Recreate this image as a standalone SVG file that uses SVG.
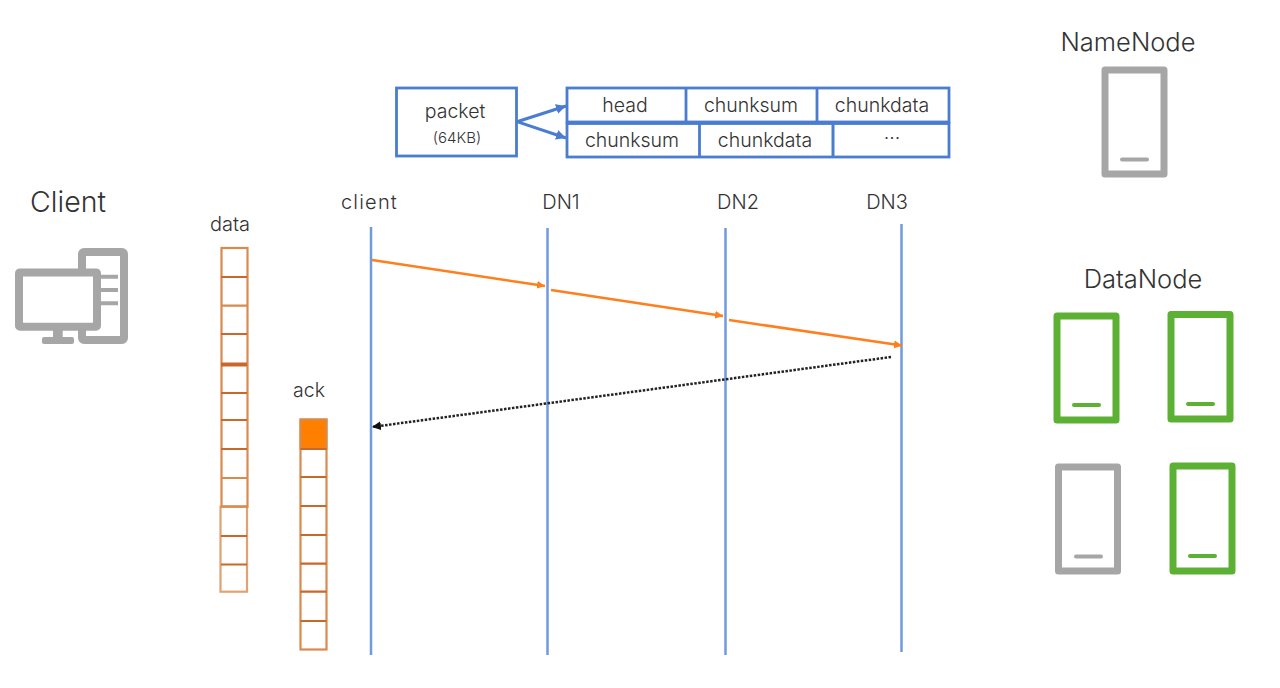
<svg xmlns="http://www.w3.org/2000/svg" width="1280" height="688" viewBox="0 0 1280 688">
<style>
text{font-family:"Inter","Liberation Sans",sans-serif;fill:#333;text-anchor:middle;font-weight:300}
.t19{font-size:19.500px}.t20{font-size:20px}.t26{font-size:25.500px}.t28{font-size:28.500px}.t14{font-size:15px}
.box{fill:#fff;stroke:#4a7cd0;stroke-width:2.800}
.life{stroke:#6f9ade;stroke-width:2.500;fill:none}
.cell{fill:#fff;stroke:#d98a4e;stroke-width:2.200}
.sep{stroke:#c8682a;stroke-width:2.200}
.srv{fill:#fff;stroke-width:7;stroke-linejoin:round}
.bar{stroke-width:4;stroke-linecap:round}
.g{stroke:#a6a6a6}.v{stroke:#5cb135}
.or{stroke:#ff7f1e;stroke-width:2.500;fill:none;marker-end:url(#ao)}
.bl{stroke:#4a7cd0;stroke-width:3;fill:none;marker-end:url(#ab)}
</style>
<defs>
<marker id="ao" markerUnits="userSpaceOnUse" markerWidth="9" markerHeight="8" refX="8" refY="4" orient="auto"><path d="M0 0L8 4L0 8z" fill="#ff7f1e"/></marker>
<marker id="ab" markerUnits="userSpaceOnUse" markerWidth="11" markerHeight="10" refX="10" refY="5" orient="auto"><path d="M0 0L10 5L0 10z" fill="#4a7cd0"/></marker>
<marker id="ak" markerUnits="userSpaceOnUse" markerWidth="10" markerHeight="9" refX="9" refY="4.500" orient="auto"><path d="M0 0L9 4.500L0 9z" fill="#111"/></marker>
</defs>
<rect width="1280" height="688" fill="#fff"/>

<g id="connectors">
<line class="life" x1="371" y1="227" x2="371" y2="655"/>
<line class="life" x1="547.500" y1="228" x2="547.500" y2="655"/>
<line class="life" x1="725.500" y1="228" x2="725.500" y2="655"/>
<line class="life" x1="901.500" y1="224" x2="901.500" y2="652"/>
<line class="or" x1="372" y1="260" x2="545" y2="286"/>
<line class="or" x1="551" y1="290" x2="723" y2="316"/>
<line class="or" x1="729" y1="320" x2="902" y2="345.500"/>
<line x1="891" y1="357" x2="372" y2="427" stroke="#222" stroke-width="2.500" stroke-dasharray="2.500 1.500" marker-end="url(#ak)"/>
</g>

<g id="client">
<text class="t28" x="68" y="212">Client</text>
<rect x="82" y="252" width="42" height="88" rx="2" fill="#fff" stroke="#a6a6a6" stroke-width="8"/>
<path d="M100 276.700H118M100 290H118M100 303.300H118" stroke="#a6a6a6" stroke-width="4" fill="none"/>
<rect x="19" y="272.400" width="78" height="54.300" rx="1" fill="#fff" stroke="#a6a6a6" stroke-width="8"/>
<rect x="53" y="330" width="9.700" height="9" fill="#a6a6a6"/>
<rect x="42" y="337" width="32" height="7" rx="2" fill="#a6a6a6"/>
</g>

<g id="data">
<text class="t20" x="230" y="231">data</text>
<rect class="cell" x="221.500" y="248" width="26" height="258.700"/>
<rect class="cell" x="220.500" y="506.700" width="26.500" height="85" stroke-opacity="0.800"/>
<path class="sep" d="M221 277H247M221 334H247M221 363.500H247M221 365.500H247M221 393H247M221 420H247M221 449H247M221 536H247M221 564.500H247"/>
<path d="M221 305.700H247M221 478H247M221 506.700H247" stroke="#d98a4e" stroke-width="2.200"/>
</g>

<g id="ack">
<text class="t19" x="309" y="397">ack</text>
<rect class="cell" x="300.500" y="419.500" width="26" height="230"/>
<rect x="300.500" y="419.500" width="26" height="29" fill="#ff7f00" stroke="#d98a4e" stroke-width="2"/>
<path class="sep" d="M300.500 449H326.500M300.500 477H326.500M300.500 506H326.500M300.500 535H326.500M300.500 563.700H326.500M300.500 591.700H326.500M300.500 621H326.500"/>
</g>

<g id="packet">
<rect class="box" x="396.500" y="88" width="120" height="68"/>
<text class="t19" x="455" y="118">packet</text>
<text class="t14" x="457" y="143">(64KB)</text>
</g>

<g id="packet-fields">
<rect class="box" x="567" y="88" width="382" height="34"/>
<rect class="box" x="567" y="123.500" width="382" height="33.500"/>
<path d="M686 88V122M817 88V122M699.500 123.500V157" class="box"/>
<path d="M833 123.500V157" fill="none" stroke="#4a7cd0" stroke-width="3"/>
<text class="t19" x="625" y="112">head</text>
<text class="t19" x="751" y="112">chunksum</text>
<text class="t19" x="882" y="112">chunkdata</text>
<text class="t19" x="632" y="147">chunksum</text>
<text class="t19" x="765" y="147">chunkdata</text>
<text class="t19" x="892" y="145">···</text>
</g>

<g id="packet-arrows">
<line class="bl" x1="517" y1="121.700" x2="566" y2="106"/>
<line class="bl" x1="517" y1="121.700" x2="566" y2="138"/>
</g>

<g id="lifeline-labels">
<text class="t20" x="369.500" y="209" letter-spacing="1.200">client</text>
<text class="t20" x="561" y="209">DN1</text>
<text class="t20" x="738" y="209">DN2</text>
<text class="t20" x="887" y="209">DN3</text>
</g>

<g id="namenode">
<text class="t26" x="1128" y="51">NameNode</text>
<rect class="srv g" x="1105" y="70" width="59" height="104"/>
<line class="bar g" x1="1122" y1="159.500" x2="1147" y2="159.500"/>
</g>

<g id="datanode-label"><text class="t26" x="1143" y="288">DataNode</text></g>

<g id="datanode-1">
<rect class="srv v" x="1057" y="316" width="59" height="104"/>
<line class="bar v" x1="1074" y1="405" x2="1099" y2="405"/>
</g>
<g id="datanode-2">
<rect class="srv v" x="1171" y="314.500" width="59" height="104.500"/>
<line class="bar v" x1="1188" y1="404" x2="1213" y2="404"/>
</g>
<g id="datanode-3">
<rect class="srv g" x="1058.500" y="467" width="59" height="104"/>
<line class="bar g" x1="1076" y1="556.500" x2="1101" y2="556.500"/>
</g>
<g id="datanode-4">
<rect class="srv v" x="1173" y="466" width="59" height="105"/>
<line class="bar v" x1="1190" y1="556" x2="1215" y2="556"/>
</g>
</svg>
